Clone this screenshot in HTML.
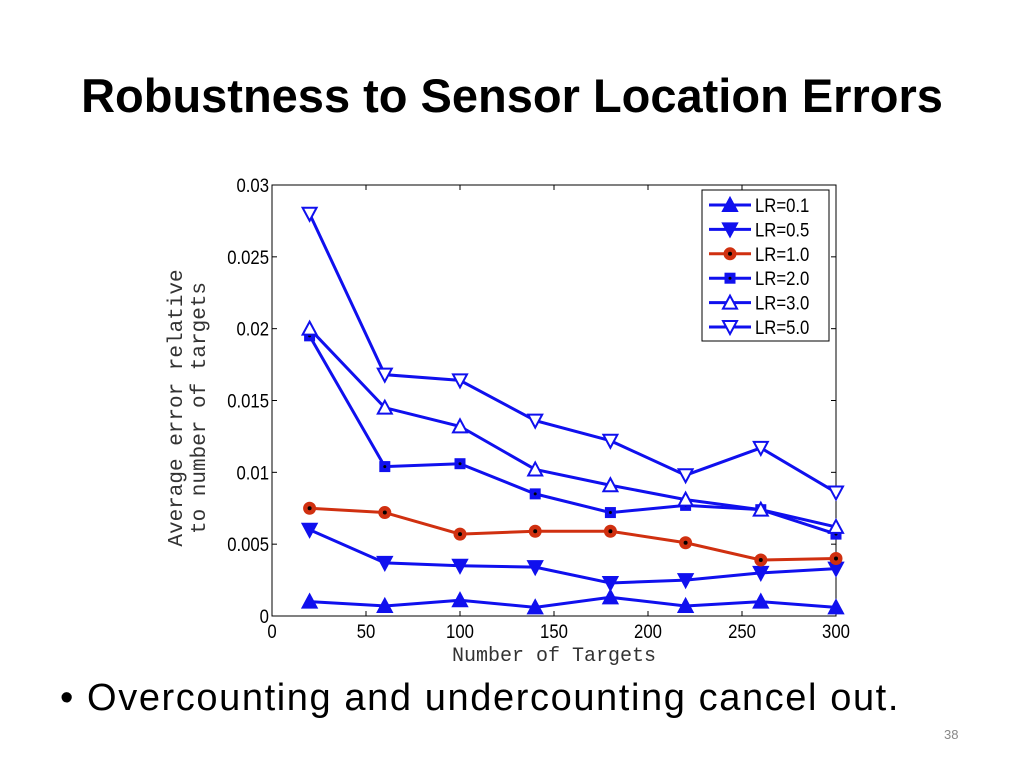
<!DOCTYPE html>
<html><head><meta charset="utf-8"><style>
body{margin:0;width:1024px;height:768px;background:#fff;overflow:hidden;font-family:"Liberation Sans",sans-serif;position:relative}
#title{position:absolute;left:0;width:1024px;top:68px;text-align:center;font-size:47px;font-weight:bold;color:#000}
#bullet{position:absolute;left:60px;top:677px;font-size:38px;letter-spacing:1.6px;color:#000}
#pn{position:absolute;left:944px;top:727px;font-size:13px;color:#888}
</style></head><body>
<div id="title">Robustness to Sensor Location Errors</div>
<svg id="chart" width="1024" height="768" style="position:absolute;left:0;top:0"></svg>
<div id="bullet">•&nbsp;Overcounting and undercounting cancel out.</div>
<div id="pn">38</div>
<script>
const xs=[20,60,100,140,180,220,260,300];
const lr01=[0.001,0.0007,0.0011,0.0006,0.0013,0.0007,0.001,0.0006];
const lr05=[0.006,0.0037,0.0035,0.0034,0.0023,0.0025,0.003,0.0033];
const lr10=[0.0075,0.0072,0.0057,0.0059,0.0059,0.0051,0.0039,0.004];
const lr20=[0.0195,0.0104,0.0106,0.0085,0.0072,0.0077,0.0074,0.0057];
const lr30=[0.020,0.0145,0.0132,0.0102,0.0091,0.0081,0.0074,0.0062];
const lr50=[0.028,0.0168,0.0164,0.0136,0.0122,0.0098,0.0117,0.0086];
const xTicks=[0,50,100,150,200,250,300];
const yTicks=[0,0.005,0.01,0.015,0.02,0.025,0.03];
const yTickLabels=["0","0.005","0.01","0.015","0.02","0.025","0.03"];
const seriesNames=["LR=0.1","LR=0.5","LR=1.0","LR=2.0","LR=3.0","LR=5.0"];
const L=272,R=836,T=185,B=616;
const X=v=>L+(v/300)*(R-L), Y=v=>B-(v/0.03)*(B-T);
const svg=document.getElementById('chart');const NS="http://www.w3.org/2000/svg";
function mk(t,a,p){const e=document.createElementNS(NS,t);for(const k in a)e.setAttribute(k,a[k]);(p||svg).appendChild(e);return e;}
const frame=mk('rect',{x:L,y:T,width:R-L,height:B-T,fill:'none',stroke:'#000','stroke-width':1});


xTicks.forEach(v=>{mk('line',{x1:X(v),x2:X(v),y1:B,y2:B-5,stroke:'#000'});mk('line',{x1:X(v),x2:X(v),y1:T,y2:T+5,stroke:'#000'});
const t=mk('text',{x:X(v),y:B+22,'text-anchor':'middle','font-size':19,fill:'#000',transform:`translate(${X(v)*0.12},0) scale(0.88,1)`});t.textContent=v;

});
yTicks.forEach((v,i)=>{mk('line',{x1:L,x2:L+5,y1:Y(v),y2:Y(v),stroke:'#000'});mk('line',{x1:R,x2:R-5,y1:Y(v),y2:Y(v),stroke:'#000'});
const t=mk('text',{x:L-3,y:Y(v)+7,'text-anchor':'end','font-size':19,fill:'#000',transform:`translate(${(L-3)*0.12},0) scale(0.88,1)`});t.textContent=yTickLabels[i];

});
const xt=mk('text',{x:(L+R)/2,y:661,'text-anchor':'middle','font-size':20,fill:'#333','font-family':'Liberation Mono'});xt.textContent="Number of Targets";


const yt=mk('text',{x:0,y:0,'text-anchor':'middle','font-size':21,fill:'#333','font-family':'Liberation Mono',transform:'translate(182,408) rotate(-90)'});
mk('tspan',{x:0,dy:0},yt).textContent="Average error relative";
mk('tspan',{x:0,dy:23},yt).textContent="to number of targets";


const blue='#1010ee',red='#d03010';
function marker(g,type,x,y,col){
 if(type==='up'||type==='upo')mk('polygon',{points:`${x},${y-7} ${x-7},${y+6} ${x+7},${y+6}`,fill:type==='up'?col:'#fff',stroke:col,'stroke-width':2},g);
 else if(type==='dn'||type==='dno')mk('polygon',{points:`${x},${y+7} ${x-7},${y-6} ${x+7},${y-6}`,fill:type==='dn'?col:'#fff',stroke:col,'stroke-width':2},g);
 else if(type==='sq'){mk('rect',{x:x-5.5,y:y-5.5,width:11,height:11,fill:col},g);mk('circle',{cx:x,cy:y,r:1.5,fill:'#000'},g);}
 else if(type==='ci'){mk('circle',{cx:x,cy:y,r:6,fill:col,stroke:col},g);mk('circle',{cx:x,cy:y,r:2,fill:'#000'},g);}
}
const all=[[lr01,'up',blue],[lr05,'dn',blue],[lr10,'ci',red],[lr20,'sq',blue],[lr30,'upo',blue],[lr50,'dno',blue]];
all.forEach(([d,m,c],i)=>{const g=mk('g',{});


mk('polyline',{points:d.map((v,j)=>X(xs[j])+','+Y(v)).join(' '),fill:'none',stroke:c,'stroke-width':3},g);
d.forEach((v,j)=>marker(g,m,X(xs[j]),Y(v),c));});
const lg=mk('g',{});


mk('rect',{x:702,y:190,width:127,height:151,fill:'#fff',stroke:'#000'},lg);
all.forEach(([d,m,c],i)=>{const y=205+i*24.4;const e=mk('g',{},lg);


mk('line',{x1:709,x2:751,y1:y,y2:y,stroke:c,'stroke-width':3},e);marker(e,m,730,y,c);
const t=mk('text',{x:755,y:y+7,'font-size':19,fill:'#000',transform:`translate(${755*0.12},0) scale(0.88,1)`},e);t.textContent=seriesNames[i];});
</script>
</body></html>
